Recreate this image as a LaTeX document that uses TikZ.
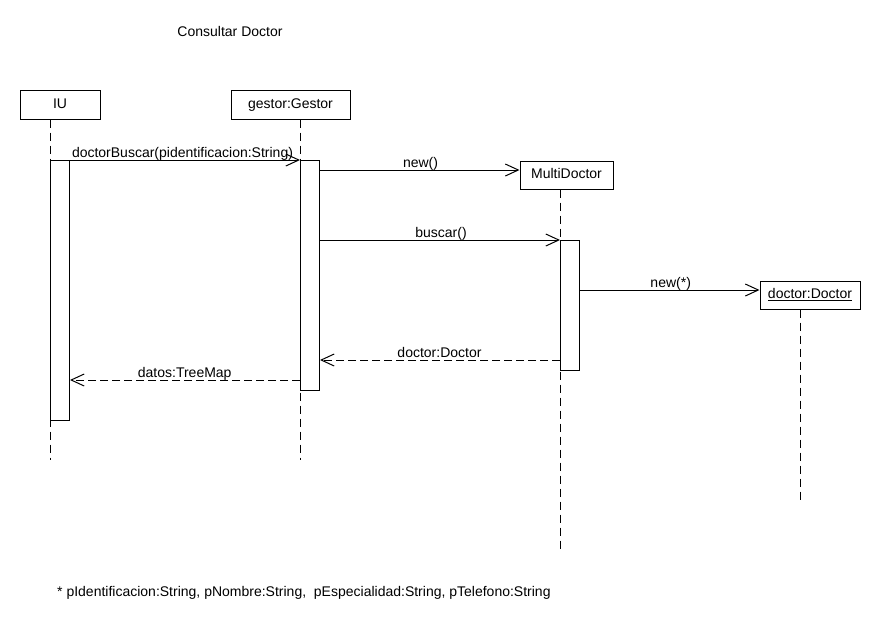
\documentclass[tikz,border=0pt]{standalone}
\usepackage{fontspec}
\setmainfont{Liberation Sans}
\usetikzlibrary{arrows.meta}
\begin{document}
\begin{tikzpicture}[x=1pt,y=-1pt,
  font=\fontsize{14}{16}\selectfont,
  obj/.style={draw, line width=1pt, fill=white, inner sep=0pt,
              text height=10pt, text depth=3pt},
  act/.style={draw, line width=1pt, fill=white, minimum width=19pt,
              inner sep=0pt, anchor=north west},
  life/.style={line width=1pt, dash pattern=on 8pt off 5pt},
  call/.style={line width=1pt,
               -{Straight Barb[length=13pt,width=12pt,line width=1pt]}},
  reply/.style={call, dash pattern=on 8pt off 4pt},
  lbl/.style={anchor=base, inner sep=0pt}]
\useasboundingbox (0,0) rectangle (880,630);
\fill[white] (0,0) rectangle (880,630);

% title
\node[lbl] (title) at (230,36.5) {Consultar Doctor};

% participants
\node[obj, minimum width=80pt, minimum height=29pt] (IU) at (60,104.5) {IU};
\node[obj, minimum width=119pt, minimum height=29pt] (G) at (290.5,104.5) {gestor:Gestor};

% lifeline ends
\coordinate (iuEnd) at (50,460);
\coordinate (gEnd) at (300,460);
\coordinate (mdEnd) at (560,550);
\coordinate (dEnd) at (800,500);

% message heights
\coordinate (y170) at (0,170);
\coordinate (y240) at (0,240);
\coordinate (y290) at (0,290);
\coordinate (y360) at (0,360);
\coordinate (y380) at (0,380);

% lifelines
\draw[life] (iuEnd |- IU.south) -- (iuEnd);
\draw[life] (gEnd |- G.south) -- (gEnd);

% activation bars
\node[act, minimum height=260pt] (aIU) at (50,160) {};
\node[act, minimum height=230pt] (aG) at (300,160) {};

% created objects
\node[obj, minimum width=93pt, minimum height=28pt] (MD) at (566.5,175) {MultiDoctor};
\draw[life] (mdEnd |- MD.south) -- (mdEnd);
\node[act, minimum height=130pt] (aMD) at (560,240) {};

\node[obj, minimum width=100pt, minimum height=28pt] (D) at (810,295) {\underline{doctor:Doctor}};
\draw[life] (dEnd |- D.south) -- (dEnd);

% messages
\draw[call] (aIU.north west) -- (aG.north west);
\node[lbl] (m1) at (182.5,157) {doctorBuscar(pidentificacion:String)};

\draw[call] (aG.east |- y170) -- (MD.west |- y170);
\node[lbl] (m2) at (420.5,167) {new()};

\draw[call] (aG.east |- y240) -- (aMD.north west);
\node[lbl] (m3) at (441,237) {buscar()};

\draw[call] (aMD.east |- y290) -- (D.west |- y290);
\node[lbl] (m4) at (670.7,287) {new(*)};

\draw[reply] (aMD.west |- y360) -- (aG.east |- y360);
\node[lbl] (m5) at (439.5,357) {doctor:Doctor};

\draw[reply] (aG.west |- y380) -- (aIU.east |- y380);
\node[lbl] (m6) at (184.7,377) {datos:TreeMap};

% footnote
\node[anchor=base west, inner sep=0pt] (note) at (57,596)
  {* pIdentificacion:String, pNombre:String,\ \ pEspecialidad:String, pTelefono:String};
\end{tikzpicture}
\end{document}
